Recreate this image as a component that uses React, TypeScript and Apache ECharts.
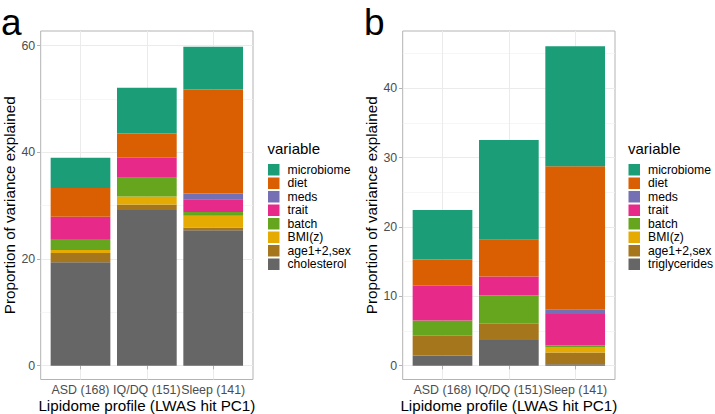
import React, { useEffect, useRef } from "react";
import * as echarts from "echarts";

const categories = ["ASD (168)", "IQ/DQ (151)", "Sleep (141)"];
const categoryPos = [1, 2, 3];

// stacking order: bottom -> top
const variablesA = ["cholesterol", "age1+2,sex", "BMI(z)", "batch", "trait", "meds", "diet", "microbiome"];
const variablesB = ["triglycerides", "age1+2,sex", "BMI(z)", "batch", "trait", "meds", "diet", "microbiome"];
const palette = ["#666666", "#A6761D", "#E6AB02", "#66A61E", "#E7298A", "#7570B3", "#D95F02", "#1B9E77"];

// Panel a (cholesterol), values per category [ASD, IQ/DQ, Sleep]
const aCholesterol = [19.4, 29.2, 25.4];
const aAge = [1.7, 1.0, 0.5];
const aBMI = [0.6, 1.5, 2.2];
const aBatch = [2.05, 3.55, 0.7];
const aTrait = [4.15, 3.75, 2.4];
const aMeds = [0, 0, 1.1];
const aDiet = [5.4, 4.55, 19.5];
const aMicrobiome = [5.7, 8.55, 8.0];

// Panel b (triglycerides)
const bTriglycerides = [1.45, 3.7, 0.2];
const bAge = [2.85, 2.35, 1.7];
const bBMI = [0, 0, 0.8];
const bBatch = [2.2, 4.05, 0.2];
const bTrait = [5.0, 2.75, 4.55];
const bMeds = [0, 0, 0.6];
const bDiet = [3.8, 5.3, 20.7];
const bMicrobiome = [7.15, 14.4, 17.3];

const aTicksMajor = [0, 20, 40, 60];
const aTicksMinor = [10, 30, 50];
const bTicksMajor = [0, 10, 20, 30, 40];
const bTicksMinor = [5, 15, 25, 35, 45];

const panelA = [aCholesterol, aAge, aBMI, aBatch, aTrait, aMeds, aDiet, aMicrobiome];
const panelB = [bTriglycerides, bAge, bBMI, bBatch, bTrait, bMeds, bDiet, bMicrobiome];

const FONT = "Liberation Sans, Arial, Helvetica, sans-serif";

export default function App() {
  const ref = useRef<HTMLDivElement>(null);
  useEffect(() => {
    if (!ref.current) return;
    const chart = echarts.init(ref.current, undefined, { renderer: "svg" });

    const plotW = 212.3;
    const plotH = 348.5;
    const plotTop = 31;
    const xMin = 0.4;
    const xMax = 3.6;
    const unit = plotW / (xMax - xMin);
    const panelLefts = [40.7, 402.7];
    const yRanges = [
      [-2.6, 62.75],
      [-2.0, 48.25],
    ];
    const majors = [aTicksMajor, bTicksMajor];
    const minors = [aTicksMinor, bTicksMinor];

    const grid: any[] = [];
    const xAxis: any[] = [];
    const yAxis: any[] = [];
    const series: any[] = [];

    [panelA, panelB].forEach((panel, p) => {
      const frameGrid = grid.length;
      grid.push({
        left: panelLefts[p],
        top: plotTop,
        width: plotW,
        height: plotH,
        outerBoundsMode: "none",
        containLabel: false,
        show: true,
        borderColor: "#b3b3b3",
        borderWidth: 1,
        backgroundColor: "transparent",
      });
      const barGrid = grid.length;
      grid.push({
        left: panelLefts[p] + (1 - xMin) * unit - 0.5 * unit,
        top: plotTop,
        width: categories.length * unit,
        height: plotH,
        outerBoundsMode: "none",
        containLabel: false,
      });

      xAxis.push({
        type: "value",
        gridIndex: frameGrid,
        min: xMin,
        max: xMax,
        name: "Lipidome profile (LWAS hit PC1)",
        nameLocation: "middle",
        nameGap: 18,
        nameMoveOverlap: false,
        nameTextStyle: { fontSize: 15.2, color: "#000", fontFamily: FONT },
        axisLine: { show: false },
        axisTick: { show: true, length: 3.7, customValues: categoryPos, lineStyle: { color: "#b3b3b3", width: 1 } },
        axisLabel: {
          customValues: categoryPos,
          margin: 4,
          fontSize: 12.4,
          color: "#4d4d4d",
          fontFamily: FONT,
          formatter: (v: number) => categories[Math.round(v) - 1] ?? "",
        },
        splitLine: { show: true, lineStyle: { color: "#ebebeb", width: 1 } },
      });
      const barX = xAxis.length;
      xAxis.push({
        type: "category",
        gridIndex: barGrid,
        data: categories,
        show: false,
      });

      yAxis.push({
        type: "value",
        gridIndex: frameGrid,
        min: yRanges[p][0],
        max: yRanges[p][1],
        name: "Proportion of variance explained",
        nameLocation: "middle",
        nameGap: 23.5,
        nameMoveOverlap: false,
        nameTextStyle: { fontSize: 15.2, color: "#000", fontFamily: FONT },
        axisLine: { show: false },
        axisTick: { show: true, length: 3.7, customValues: majors[p], lineStyle: { color: "#b3b3b3", width: 1 } },
        axisLabel: { customValues: majors[p], margin: 5.5, fontSize: 12.4, color: "#4d4d4d", fontFamily: FONT },
        splitLine: { show: true, lineStyle: { color: "#ebebeb", width: 1 } },
      });
      yAxis.push({
        type: "value",
        gridIndex: frameGrid,
        min: yRanges[p][0],
        max: yRanges[p][1],
        axisLine: { show: false },
        axisTick: { show: false, customValues: minors[p] },
        axisLabel: { show: false },
        splitLine: { show: true, lineStyle: { color: "#f2f2f2", width: 0.7 } },
      });
      const barY = yAxis.length;
      yAxis.push({
        type: "value",
        gridIndex: barGrid,
        min: yRanges[p][0],
        max: yRanges[p][1],
        show: false,
        splitLine: { show: false },
      });

      const names = p === 0 ? variablesA : variablesB;
      panel.forEach((vals, k) => {
        series.push({
          type: "bar",
          name: names[k],
          xAxisIndex: barX,
          yAxisIndex: barY,
          stack: "panel" + p,
          barWidth: "90%",
          itemStyle: { color: palette[k] },
          data: vals,
          z: 3,
        });
      });
    });

    const legendBase = {
      orient: "vertical",
      top: 163,
      padding: 0,
      itemGap: 0,
      itemWidth: 11.5,
      itemHeight: 11.5,
      icon: "rect",
      selectedMode: false,
      textStyle: { fontSize: 12.2, color: "#000", fontFamily: FONT, lineHeight: 13.5, padding: [0, 0, 0, 3] },
    };

    chart.setOption({
      animation: false,
      backgroundColor: "#ffffff",
      textStyle: { fontFamily: FONT },
      title: [
        { text: "a", left: 1, top: 2, padding: 0, textStyle: { fontSize: 37, lineHeight: 40, fontWeight: "normal", color: "#000", fontFamily: FONT } },
        { text: "b", left: 364, top: 2, padding: 0, textStyle: { fontSize: 37, lineHeight: 40, fontWeight: "normal", color: "#000", fontFamily: FONT } },
        { text: "variable", left: 267.5, top: 141, padding: 0, textStyle: { fontSize: 15, fontWeight: "normal", color: "#000", fontFamily: FONT } },
        { text: "variable", left: 628, top: 141, padding: 0, textStyle: { fontSize: 15, fontWeight: "normal", color: "#000", fontFamily: FONT } },
      ],
      legend: [
        { ...legendBase, left: 268, data: [...variablesA].reverse() },
        { ...legendBase, left: 628.5, data: [...variablesB].reverse() },
      ],
      grid,
      xAxis,
      yAxis,
      series,
    });

    return () => chart.dispose();
  }, []);

  return (
    <div
      ref={ref}
      style={{ position: "fixed", left: 0, top: 0, width: 715, height: 414, background: "#fff" }}
    />
  );
}
